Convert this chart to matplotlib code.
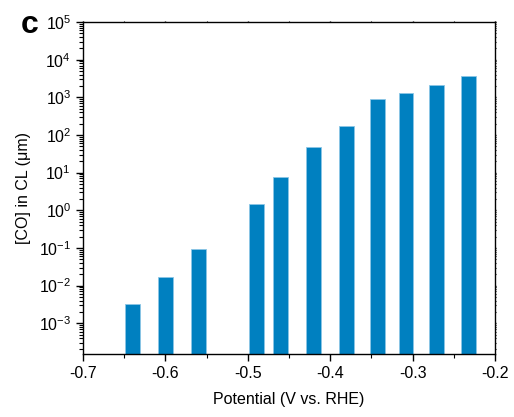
import numpy as np
import matplotlib.pyplot as plt
from matplotlib.ticker import LogLocator, MultipleLocator, NullFormatter

plt.rcParams['font.family'] = ['Liberation Sans', 'DejaVu Sans']

# CO concentration in the catalyst layer at each potential
potential = [-0.64, -0.60, -0.56, -0.489, -0.46, -0.42, -0.38, -0.343, -0.308, -0.271, -0.232]
co_conc = [3.2e-3, 1.65e-2, 9.1e-2, 1.5, 7.5, 48, 170, 900, 1290, 2100, 3600]

ymin = 10 ** -3.82

fig = plt.figure(figsize=(5.14, 4.17), dpi=100)
ax = fig.add_axes([0.1615, 0.151, 0.8015, 0.796])

ax.set_yscale('log')
ax.bar(potential, np.array(co_conc) - ymin, width=0.018, bottom=ymin,
       color='#0080c0', edgecolor='#8cc6e6', linewidth=0.6)

ax.set_xlim(-0.7, -0.2)
ax.set_ylim(ymin, 1e5)

ax.xaxis.set_major_locator(MultipleLocator(0.1))
ax.xaxis.set_minor_locator(MultipleLocator(0.05))
ax.xaxis.set_major_formatter(plt.FuncFormatter(lambda v, p: f'{v:.1f}'))
ax.yaxis.set_major_locator(LogLocator(base=10, numticks=20))
ax.yaxis.set_minor_locator(LogLocator(base=10, subs=np.arange(2, 10), numticks=20))
ax.yaxis.set_minor_formatter(NullFormatter())

ax.tick_params(which='major', direction='out', length=5, width=1, labelsize=11.5)
ax.tick_params(which='minor', direction='out', length=3, width=0.8)
# barely visible ticks on the mirrored spines
ax.tick_params(which='both', top=True, right=True)
for t in ax.xaxis.get_ticklines(minor=False)[1::2] + ax.xaxis.get_ticklines(minor=True)[1::2]:
    t.set_markersize(1)
    t.set_color('#888888')
for t in ax.yaxis.get_ticklines(minor=False)[1::2] + ax.yaxis.get_ticklines(minor=True)[1::2]:
    t.set_markersize(1)
    t.set_color('#888888')

for s in ax.spines.values():
    s.set_linewidth(1.0)

ax.set_xlabel('Potential (V vs. RHE)', fontsize=11.5, labelpad=8)
ax.set_ylabel('[CO] in CL (μm)', fontsize=11.5, labelpad=6)

fig.text(0.04, 0.922, 'c', fontsize=23, fontweight='bold')

fig.savefig('out.png', dpi=100)
